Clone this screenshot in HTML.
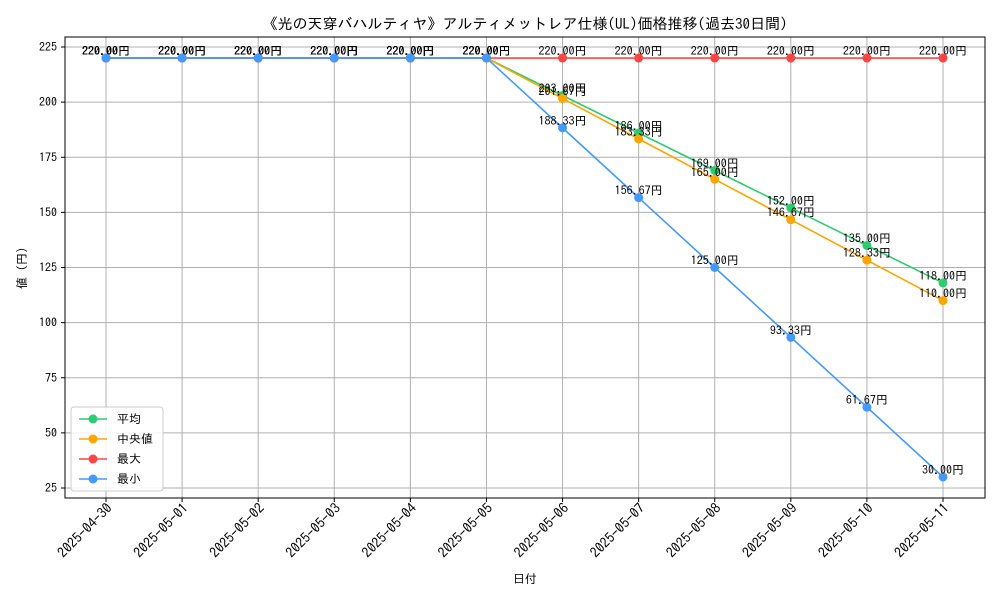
<!DOCTYPE html>
<html><head><meta charset="utf-8"><style>
body{margin:0;background:#fff}
svg text{font-family:"IPAGothic","Liberation Sans","Noto Sans CJK JP",sans-serif;fill:#000}
</style></head><body>
<svg id="c" width="1000" height="600" xmlns="http://www.w3.org/2000/svg">
<text x="525" y="29" font-size="15" text-anchor="middle">《光の天穿バハルティヤ》アルティメットレア仕様(UL)価格推移(過去30日間)</text>
<g id="grid"></g><g id="axes"></g><g id="series"></g>
<text x="525" y="583" font-size="12" text-anchor="middle">日付</text>
<text transform="translate(26,268) rotate(-90)" font-size="12" text-anchor="middle">値 (円)</text>
<g id="legend"></g>
</svg>
<script>
const dates=["2025-04-30","2025-05-01","2025-05-02","2025-05-03","2025-05-04","2025-05-05","2025-05-06","2025-05-07","2025-05-08","2025-05-09","2025-05-10","2025-05-11"];
const avgVals=[220,220,220,220,220,220,203,186,169,152,135,118];
const medVals=[220,220,220,220,220,220,201.67,183.33,165,146.67,128.33,110];
const maxVals=[220,220,220,220,220,220,220,220,220,220,220,220];
const minVals=[220,220,220,220,220,220,188.33,156.67,125,93.33,61.67,30];
const yTicks=[25,50,75,100,125,150,175,200,225];
const NS="http://www.w3.org/2000/svg";
const L=65,R=985,T=37,B=498;
const xS=i=>106+i*(943-106)/(dates.length-1);
const yS=v=>488-(v-25)*(488-47)/200;
function mk(t,a,p){const e=document.createElementNS(NS,t);for(const k in a)e.setAttribute(k,a[k]);p.appendChild(e);return e;}
const grid=document.getElementById('grid'),axes=document.getElementById('axes'),ser=document.getElementById('series'),leg=document.getElementById('legend');
yTicks.forEach(v=>{
 const g=mk('line',{x1:L,x2:R,y1:yS(v),y2:yS(v),stroke:'#b0b0b0','stroke-width':1},grid);
 
 
 mk('line',{x1:L-4,x2:L,y1:yS(v),y2:yS(v),stroke:'#000'},axes);
 const t=mk('text',{x:L-8,y:yS(v)+4,'font-size':12,'text-anchor':'end'},axes);t.textContent=v;
 
 
});
dates.forEach((d,i)=>{
 const g=mk('line',{x1:xS(i),x2:xS(i),y1:T,y2:B,stroke:'#b0b0b0','stroke-width':1},grid);
 
 
 mk('line',{x1:xS(i),x2:xS(i),y1:B,y2:B+4,stroke:'#000'},axes);
 const t=mk('text',{transform:`translate(${xS(i)+7},${B+11}) rotate(-45)`,'font-size':14,'text-anchor':'end'},axes);t.textContent=d;
 
 
});
const fr=mk('rect',{x:L,y:T,width:R-L,height:B-T,fill:'none',stroke:'#000','stroke-width':1},axes);


const series=[["平均",avgVals,"#2ecc71","avg"],["中央値",medVals,"#ffa500","median"],["最大",maxVals,"#ff4444","max"],["最小",minVals,"#4499ff","min"]];
series.forEach(([name,vals,col,key])=>{
 const g=mk('g',{},ser);
 
 
 const pl=mk('polyline',{points:vals.map((v,i)=>xS(i)+','+yS(v)).join(' '),fill:'none',stroke:col,'stroke-width':1.6},g);
 
 
 vals.forEach((v,i)=>{
  const c=mk('circle',{cx:xS(i),cy:yS(v),r:4.5,fill:col},g);
  
  
  const t=mk('text',{x:xS(i),y:yS(v)-3,'font-size':12,'text-anchor':'middle'},g);
  t.textContent=v.toFixed(2)+'円';
  
  
 });
});
const lb=mk('rect',{x:71,y:407,width:92,height:84,fill:'#fff','fill-opacity':0.85,stroke:'#ccc',rx:3},leg);


series.forEach(([name,vals,col,key],k)=>{
 const y=419+k*20;
 const g=mk('g',{},leg);
 
 
 mk('line',{x1:79,x2:107,y1:y,y2:y,stroke:col,'stroke-width':1.6},g);
 mk('circle',{cx:93,cy:y,r:4.5,fill:col},g);
 const t=mk('text',{x:117,y:y+4,'font-size':12},g);t.textContent=name;
});
</script>
</body></html>
